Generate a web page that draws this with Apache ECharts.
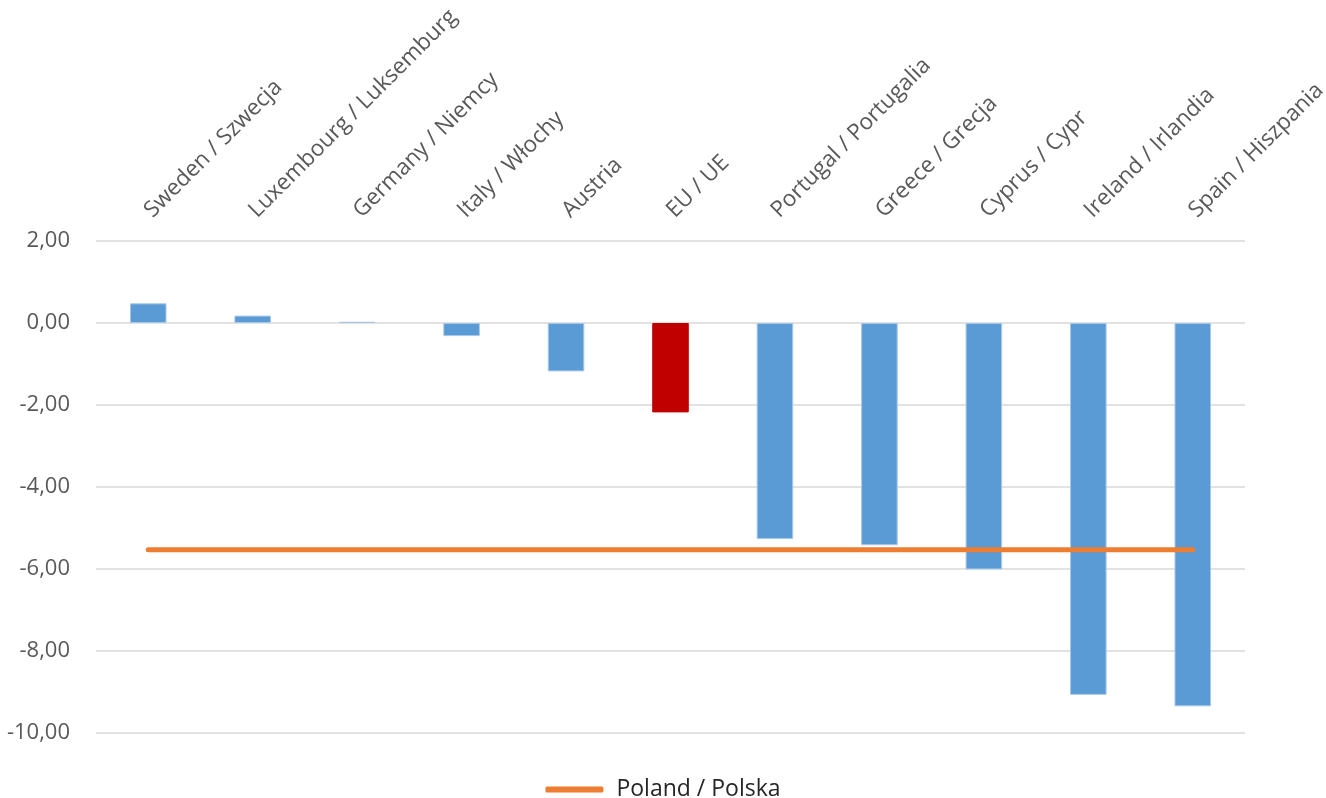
<!DOCTYPE html>
<html>
<head>
<meta charset="utf-8">
<title>Budget balance</title>
<script src="https://cdn.jsdelivr.net/npm/echarts@6/dist/echarts.min.js"></script>
<style>
  html, body { margin: 0; padding: 0; background: #ffffff; }
  #chart { width: 1326px; height: 798px; }
</style>
</head>
<body>
<div id="chart"></div>
<script>
// Countries, ordered from highest to lowest value
const categories = [
  'Sweden / Szwecja', 'Luxembourg / Luksemburg', 'Germany / Niemcy',
  'Italy / Włochy', 'Austria', 'EU / UE', 'Portugal / Portugalia',
  'Greece / Grecja', 'Cyprus / Cypr', 'Ireland / Irlandia', 'Spain / Hiszpania'
];
const values = [0.48, 0.18, 0.03, -0.32, -1.18, -2.18, -5.27, -5.42, -6.01, -9.07, -9.35];
// Poland reference level, drawn as a flat line across all countries
const polandValue = -5.53;
const polandLine = categories.map(() => polandValue);
const highlighted = 'EU / UE';

const fontFamily = '"Open Sans", "Noto Sans", sans-serif';

const chart = echarts.init(document.getElementById('chart'), null, { renderer: 'canvas' });

chart.setOption({
  animation: false,
  backgroundColor: '#ffffff',
  grid: { left: 96, right: 81, top: 241, bottom: 65, containLabel: false, outerBoundsMode: 'none' },
  legend: {
    bottom: -8,
    left: 'center',
    data: ['Poland / Polska'],
    itemWidth: 58,
    itemHeight: 6,
    itemGap: 10,
    icon: 'roundRect',
    textStyle: { fontFamily, fontSize: 23, color: '#262626', padding: [0, 0, 0, 8] }
  },
  xAxis: {
    type: 'category',
    position: 'top',
    data: categories,
    axisLine: { show: false },
    axisTick: { show: false },
    axisLabel: {
      rotate: 45,
      interval: 0,
      margin: 27,
      fontFamily,
      fontSize: 22.5,
      color: '#595959'
    }
  },
  yAxis: {
    type: 'value',
    min: -10,
    max: 2,
    interval: 2,
    axisLine: { show: false },
    axisTick: { show: false },
    splitLine: { lineStyle: { color: '#d9d9d9', width: 1.5 } },
    axisLabel: {
      margin: 26,
      fontFamily,
      fontSize: 22,
      color: '#595959',
      formatter: v => v.toFixed(2).replace('.', ',')
    }
  },
  series: [
    {
      name: 'Balance',
      type: 'bar',
      barWidth: '35%',
      data: values.map((v, i) => ({
        value: v,
        itemStyle: {
          color: categories[i] === highlighted ? '#C00000' : '#5B9BD5',
          borderColor: categories[i] === highlighted ? '#C00000' : '#a9c8e8',
          borderWidth: 1
        }
      }))
    },
    {
      name: 'Poland / Polska',
      type: 'line',
      data: polandLine,
      symbol: 'none',
      color: '#ED7D31',
      lineStyle: { color: '#ED7D31', width: 5, cap: 'round' }
    }
  ]
});
</script>
</body>
</html>
